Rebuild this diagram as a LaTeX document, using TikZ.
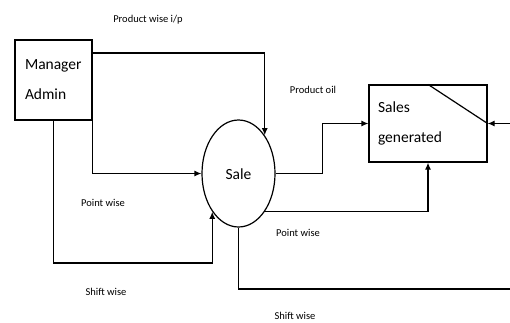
\documentclass[tikz,border=0pt]{standalone}
\usepackage{fontspec}
\setmainfont{Carlito}
\usetikzlibrary{arrows.meta,shapes.geometric}

\begin{document}
\begin{tikzpicture}[x=1pt,y=1pt,
    line width=1.2pt,
    arr/.style={-{Latex[length=7pt,width=6pt]}},
    box/.style={draw, align=left, inner xsep=10pt, font=\fontsize{15.5}{30}\selectfont},
    lbl/.style={font=\fontsize{10.5}{12}\selectfont}]
    \useasboundingbox (0,0) rectangle (510,322);

    % boxes and the sale ellipse
    \node[box, text width=57pt, minimum height=80pt] (mgr) at (53.5,242) {Manager\\Admin};
    \node[draw, ellipse, minimum width=73pt, minimum height=107pt, inner sep=0pt,
          font=\fontsize{15.5}{18}\selectfont] (sale) at (238.5,148.5) {\raisebox{-12pt}{Sale}};
    \node[box, text width=100pt, inner xsep=9pt, minimum height=77pt] (gen) at (428,198.5) {Sales\\generated};
    \draw (gen.north) -- (gen.east);

    % free ends at the right edge
    \coordinate (inR) at (510,198.5);
    \coordinate (outR) at (510,33);

    % inputs to sale
    \draw[arr] (mgr.east |- 0,269) -| (sale.north east);
    \draw[arr] (mgr.east) |- (sale.west);
    \draw[arr] (mgr.south) -- (mgr.south |- 0,59) -| (sale.south west);

    % outputs of sale
    \draw[arr] (sale.east) -- ++(47,0) |- (gen.west);
    \draw[arr] (sale.south east) -| (gen.south);
    \draw (sale.south) |- (outR);
    \draw[arr] (inR) -- (gen.east);

    % labels
    \node[lbl] (l1) at (148,302) {Product wise i/p};
    \node[lbl] (l2) at (313,232) {Product oil};
    \node[lbl] (l3) at (103,119) {Point wise};
    \node[lbl] (l4) at (106,30) {Shift wise};
    \node[lbl] (l5) at (298,89) {Point wise};
    \node[lbl] (l6) at (295,6) {Shift wise};
\end{tikzpicture}
\end{document}
